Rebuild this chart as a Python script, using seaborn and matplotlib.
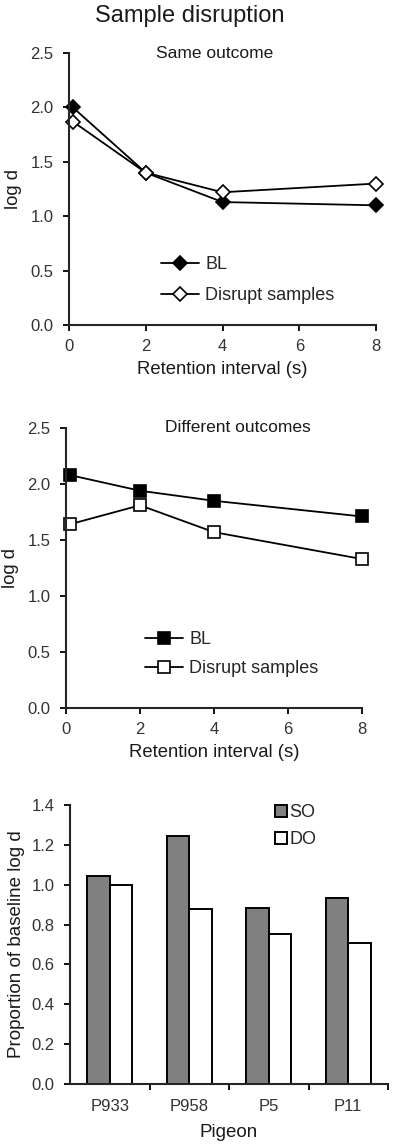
import matplotlib
matplotlib.use("Agg")
import matplotlib.pyplot as plt
from matplotlib.patches import Patch
from matplotlib.ticker import FormatStrFormatter
import seaborn as sns
import pandas as pd
import numpy as np

# --- données ---
retention = [0.1, 2, 4, 8]
same_bl = [2.00, 1.40, 1.13, 1.10]
same_disrupt = [1.87, 1.40, 1.22, 1.30]
diff_bl = [2.08, 1.94, 1.85, 1.71]
diff_disrupt = [1.64, 1.81, 1.57, 1.33]

pigeons = ["P933", "P958", "P5", "P11"]
so_prop = [1.045, 1.245, 0.885, 0.935]
do_prop = [1.00, 0.88, 0.755, 0.71]

sns.set_style("ticks")
plt.rcParams["font.family"] = ["Liberation Sans", "DejaVu Sans"]
plt.rcParams["axes.linewidth"] = 1.5
plt.rcParams["xtick.major.width"] = 1.3
plt.rcParams["ytick.major.width"] = 1.3
plt.rcParams["xtick.major.size"] = 4
plt.rcParams["ytick.major.size"] = 4
plt.rcParams["xtick.color"] = "black"
plt.rcParams["ytick.color"] = "black"
plt.rcParams["xtick.labelcolor"] = "#333333"
plt.rcParams["ytick.labelcolor"] = "#333333"

W, H = 400, 1145
fig = plt.figure(figsize=(W / 100, H / 100), dpi=100)


def px_axes(left, right, top, bottom):
    return fig.add_axes([left / W, 1 - bottom / H, (right - left) / W, (bottom - top) / H])


fig.text(190 / W, 1 - 16 / H, "Sample disruption", ha="center", va="center",
         fontsize=17, color="#1a1a1a")


def line_panel(ax, bl, dis, marker, ms, title, tx, leg_xy, spacing):
    sns.lineplot(x=retention, y=bl, ax=ax, color="black", lw=1.3, marker=marker,
                 ms=ms, mfc="black", mec="black", mew=1.2, label="BL", clip_on=False)
    sns.lineplot(x=retention, y=dis, ax=ax, color="black", lw=1.3, marker=marker,
                 ms=ms, mfc="white", mec="black", mew=1.2, label="Disrupt samples",
                 clip_on=False)
    ax.set_xlim(0, 8)
    ax.set_ylim(0, 2.5)
    ax.set_xticks([0, 2, 4, 6, 8])
    ax.set_yticks(np.arange(0, 2.51, 0.5))
    ax.yaxis.set_major_formatter(FormatStrFormatter("%.1f"))
    ax.tick_params(labelsize=12)
    ax.tick_params(axis="x", pad=6)
    ax.tick_params(axis="y", pad=7)
    ax.set_xlabel("Retention interval (s)", fontsize=13.3, color="#1a1a1a", labelpad=5)
    ax.set_ylabel("log d", fontsize=13.3, color="#1a1a1a", labelpad=6)
    ax.text(tx, 1.0, title, transform=ax.transAxes, ha="center", va="center",
            fontsize=12.5, color="#1a1a1a")
    ax.legend(loc="center left", bbox_to_anchor=leg_xy, frameon=False, fontsize=13,
              handlelength=2.1, handletextpad=0.35, borderpad=0, labelspacing=spacing)
    sns.despine(ax=ax)


ax1 = px_axes(69, 376, 53, 325)
line_panel(ax1, same_bl, same_disrupt, "D", 7, "Same outcome", 0.475, (0.27, 0.165), 0.8)

ax2 = px_axes(66, 362, 428, 708)
line_panel(ax2, diff_bl, diff_disrupt, "s", 9, "Different outcomes", 0.579, (0.236, 0.192), 0.65)

# --- panneau barres ---
ax3 = px_axes(70, 388, 805, 1084)
bars = pd.DataFrame({
    "Pigeon": pigeons * 2,
    "prop": so_prop + do_prop,
    "cond": ["SO"] * 4 + ["DO"] * 4,
})
pal = {"SO": "#808080", "DO": "white"}
sns.barplot(data=bars, x="Pigeon", y="prop", hue="cond", palette=pal, width=0.57,
            edgecolor="black", linewidth=1.4, errorbar=None, legend=False, ax=ax3,
            saturation=1)
ax3.set_xlim(-0.5, 3.5)
ax3.set_ylim(0, 1.4)
ax3.set_yticks(np.arange(0, 1.41, 0.2))
ax3.yaxis.set_major_formatter(FormatStrFormatter("%.1f"))
ax3.set_xticks(np.arange(0.5, 3.6, 1), minor=True)
ax3.tick_params(axis="x", which="major", length=0, pad=11)
ax3.tick_params(axis="x", which="minor", length=4, width=1.3, direction="out")
ax3.tick_params(axis="y", pad=7)
ax3.tick_params(labelsize=12)
ax3.set_xlabel("Pigeon", fontsize=13.5, color="#1a1a1a", labelpad=7)
ax3.set_ylabel("Proportion of baseline log d", fontsize=13.5, color="#1a1a1a", labelpad=5)
handles = [Patch(facecolor=pal[c], edgecolor="black", linewidth=1.4, label=c) for c in ["SO", "DO"]]
ax3.legend(handles=handles, loc="center left", bbox_to_anchor=(0.616, 0.925), frameon=False,
           fontsize=13, handlelength=0.65, handleheight=0.65, handletextpad=0.15,
           borderpad=0, labelspacing=0.55)
sns.despine(ax=ax3)

fig.savefig("out.png", dpi=100)
